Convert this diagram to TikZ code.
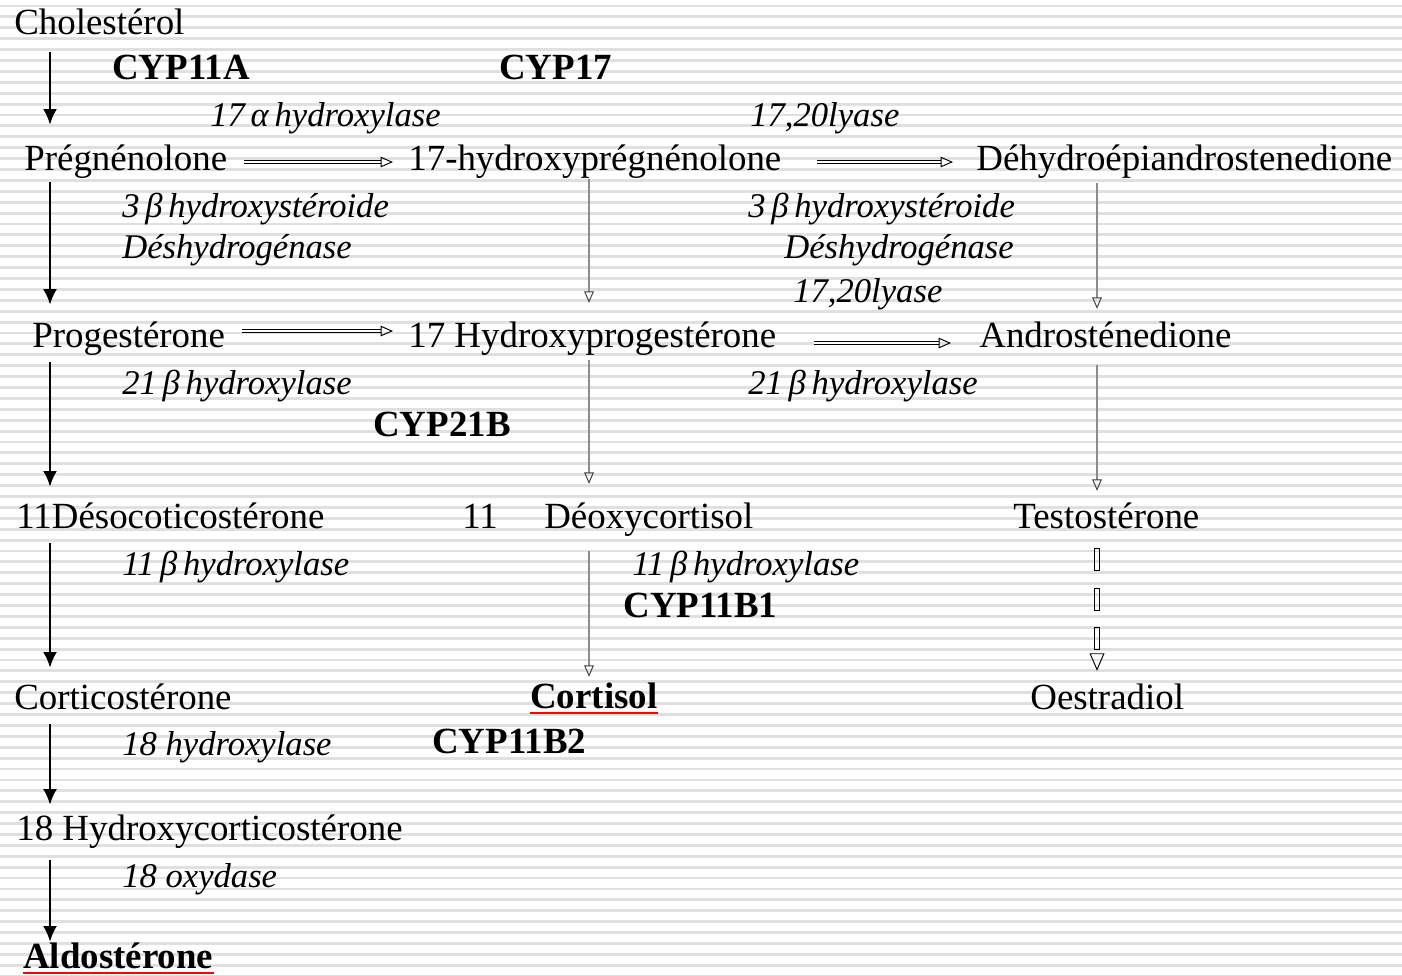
\documentclass[tikz,border=0pt]{standalone}
\usepackage{fontspec}
\setmainfont{Liberation Serif}
\usetikzlibrary{arrows.meta,positioning,calc,decorations.markings}
\newlength{\pxu}\setlength{\pxu}{0.02cm}

\begin{document}
\begin{tikzpicture}[x=0.02cm,y=-0.02cm,
stripe/.style={black!12,line width=1.6pt},
met/.style={anchor=base west,inner sep=0pt,text height=14.7pt,text depth=4.5pt,font=\fontsize{21}{25}\selectfont},
key/.style={met,font=\fontsize{21}{25}\selectfont\bfseries},
enz/.style={anchor=base west,inner sep=0pt,font=\fontsize{19.7}{24}\selectfont\itshape},
cyp/.style={anchor=base west,inner sep=0pt,font=\fontsize{21}{25}\selectfont\bfseries},
mainarr/.style={line width=1.5pt,-{Latex[length=9pt,width=8pt]}},
thinarr/.style={draw=black!75,double=black!45,line width=0.35pt,double distance=0.7pt,-{Triangle[open,length=6.5pt,width=5.5pt,line width=0.55pt]}},
sidearr/.style={double,line width=0.45pt,double distance=1.4pt,-{Triangle[open,length=7pt,width=6pt,line width=0.55pt]}},
dasharr/.style={line width=0.5pt,dash pattern=on 0pt off 500pt,-{Triangle[open,length=10pt,width=8.5pt,line width=0.55pt]},
  postaction={decorate},
  decoration={markings,
    mark=at position 23\pxu with {\draw[solid,line width=0.55pt] (-11\pxu,-2.5\pxu) rectangle (11\pxu,2.5\pxu);},
    mark=at position 63\pxu with {\draw[solid,line width=0.55pt] (-11\pxu,-2.5\pxu) rectangle (11\pxu,2.5\pxu);},
    mark=at position 102\pxu with {\draw[solid,line width=0.55pt] (-11\pxu,-2.5\pxu) rectangle (11\pxu,2.5\pxu);}}},
redline/.style={red,line width=1.6pt}]

\useasboundingbox (0,0) rectangle (1402,976);
\fill[white] (0,0) rectangle (1402,976);
\foreach \i in {0,...,89}
  \draw[stripe] (0,{6+10.9*\i}) -- (1402,{6+10.9*\i});

% columns
\coordinate (colA) at (50,0);
\coordinate (colB) at (589,0);
\coordinate (colC) at (1097,0);

% substances
\node[met] (chol) at (14,35) {Cholestérol};
\node[met] (preg) at (24,171) {Prégnénolone};
\node[met] (ohpreg) at (408,171) {17-hydroxyprégnénolone};
\node[met] (dhea) at (976,171) {Déhydroépiandrostenedione};
\node[met] (prog) at (32,347) {Progestérone};
\node[met] (ohprog) at (408,347) {17 Hydroxyprogestérone};
\node[met] (andro) at (979,347) {Androsténedione};
\node[met] (doc) at (16,528) {11Désocoticostérone};
\node[met] (num) at (462,528) {11};
\node[met] (dcort) at (544,528) {Déoxycortisol};
\node[met] (testo) at (1013,528) {Testostérone};
\node[met] (cortico) at (14,709) {Corticostérone};
\node[key] (cortisol) at (530,708) {Cortisol};
\node[met] (oestra) at (1030,709) {Oestradiol};
\node[met] (ohcort) at (16,840) {18 Hydroxycorticostérone};
\node[key] (aldo) at (23,968) {Aldostérone};

% enzymes
\node[cyp] (cyp11a) at (112,80) {CYP11A};
\node[cyp] (cyp17) at (499,80) {CYP17};
\node[enz] (hydr17) at (210,127) {17\,α\,hydroxylase};
\node[enz] (lyase1) at (750,127) {17,20lyase};
\node[enz] (hsd1) at (122,218) {3\,β\,hydroxystéroide};
\node[enz] (dh1) at (122,259) {Déshydrogénase};
\node[enz] (hsd2) at (748,218) {3\,β\,hydroxystéroide};
\node[enz] (dh2) at (784,259) {Déshydrogénase};
\node[enz] (lyase2) at (793,303) {17,20lyase};
\node[enz] (hydr21a) at (122,394) {21\,β\,hydroxylase};
\node[enz] (hydr21b) at (748,394) {21\,β\,hydroxylase};
\node[cyp] (cyp21b) at (373,436) {CYP21B};
\node[enz] (hydr11a) at (122,575) {11\,β\,hydroxylase};
\node[enz] (hydr11b) at (632,575) {11\,β\,hydroxylase};
\node[cyp] (cyp11b1) at (623,617) {CYP11B1};
\node[enz] (hydr18) at (122,755) {18 hydroxylase};
\node[cyp] (cyp11b2) at (432,753) {CYP11B2};
\node[enz] (oxy18) at (122,887) {18 oxydase};

% left column
\draw[mainarr,shorten <=9\pxu,shorten >=20\pxu] (chol.south -| colA) -- (preg.north -| colA);
\draw[mainarr,shorten <=3\pxu,shorten >=16\pxu] (preg.south -| colA) -- (prog.north -| colA);
\draw[mainarr,shorten <=7\pxu,shorten >=15\pxu] (prog.south -| colA) -- (doc.north -| colA);
\draw[mainarr,shorten <=7\pxu,shorten >=15\pxu] (doc.south -| colA) -- (cortico.north -| colA);
\draw[mainarr,shorten <=7\pxu,shorten >=9\pxu] (cortico.south -| colA) -- (ohcort.north -| colA);
\draw[mainarr,shorten <=12\pxu] (ohcort.south -| colA) -- (aldo.north -| colA);

% middle and right columns
\draw[thinarr,shorten >=18\pxu] (ohpreg.south -| colB) -- (ohprog.north -| colB);
\draw[thinarr,shorten <=5\pxu,shorten >=18\pxu] (ohprog.south -| colB) -- (dcort.north -| colB);
\draw[thinarr,shorten <=15\pxu,shorten >=5\pxu] (dcort.south -| colB) -- (cortisol.north -| colB);
\draw[thinarr,shorten <=4\pxu,shorten >=12\pxu] (dhea.south -| colC) -- (andro.north -| colC);
\draw[thinarr,shorten <=10\pxu,shorten >=11\pxu] (andro.south -| colC) -- (testo.north -| colC);
\draw[dasharr,shorten >=12\pxu] (testo.south -| colC) -- (oestra.north -| colC);

% rows
\draw[sidearr,shorten <=16\pxu,shorten >=15\pxu] (preg.east) -- (ohpreg.west);
\draw[sidearr,shorten <=35\pxu,shorten >=23\pxu] (ohpreg.east) -- (dhea.west);
\draw[sidearr,shorten <=17\pxu,shorten >=15\pxu] ([yshift=7\pxu]prog.east) -- ([yshift=7\pxu]ohprog.west);
\draw[sidearr,shorten <=37\pxu,shorten >=28\pxu] ([yshift=-5\pxu]ohprog.east) -- ([yshift=-5\pxu]andro.west);

% underlines
\draw[redline] ([yshift=-5\pxu]cortisol.base west) -- ([yshift=-5\pxu]cortisol.base east);
\draw[redline] ([yshift=-5\pxu]aldo.base west) -- ([yshift=-5\pxu]aldo.base east);
\end{tikzpicture}
\end{document}
